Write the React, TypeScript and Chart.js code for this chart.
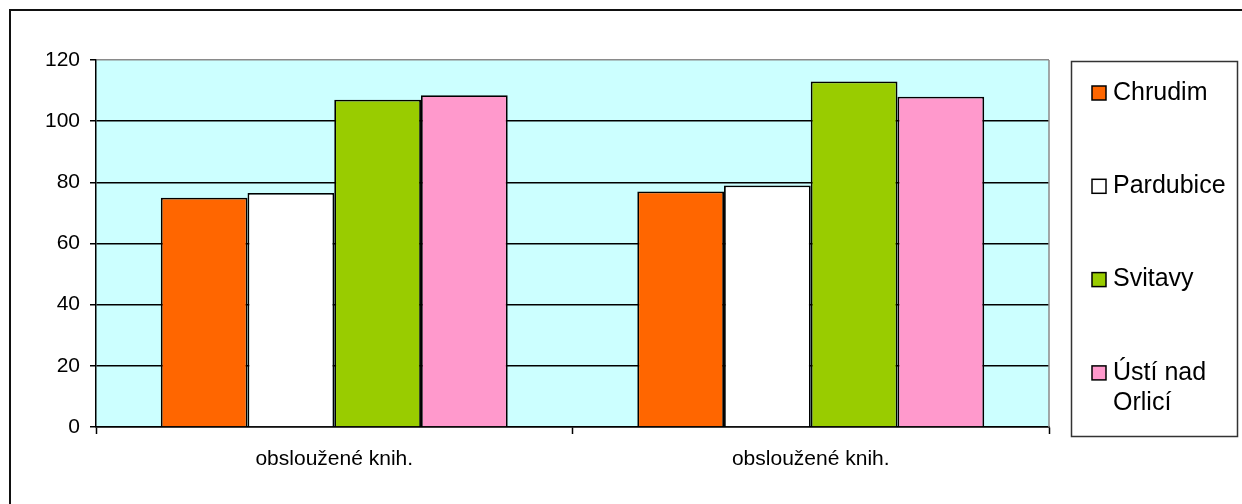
import React, { useEffect, useRef } from "react";
import { Chart, registerables } from "chart.js";

Chart.register(...registerables);

const categories = ["obsloužené knih.", "obsloužené knih."];
const seriesNames = ["Chrudim", "Pardubice", "Svitavy", "Ústí nad Orlicí"];
const chrudim = [75, 77];
const pardubice = [76.5, 79];
const svitavy = [107, 113];
const ustiNadOrlici = [108.5, 108];
const seriesColors = ["#FF6600", "#FFFFFF", "#99CC00", "#FF99CC"];
const yMin = 0;
const yMax = 120;
const yStep = 20;

const FONT = "'Liberation Sans', Arial, sans-serif";

function wrapText(ctx: CanvasRenderingContext2D, text: string, maxW: number): string[] {
  const words = text.split(" ");
  const lines: string[] = [];
  let cur = "";
  for (const w of words) {
    const test = cur ? cur + " " + w : w;
    if (ctx.measureText(test).width > maxW && cur) {
      lines.push(cur);
      cur = w;
    } else {
      cur = test;
    }
  }
  if (cur) lines.push(cur);
  return lines;
}

const decorPlugin = {
  id: "decor",
  beforeDraw(chart: any) {
    const { ctx, chartArea } = chart;
    ctx.save();
    ctx.fillStyle = "#FFFFFF";
    ctx.fillRect(0, 0, chart.width, chart.height);
    ctx.fillStyle = "#CCFFFF";
    ctx.fillRect(chartArea.left, chartArea.top, chartArea.right - chartArea.left, chartArea.bottom - chartArea.top);
    ctx.restore();
  },
  afterDatasetsDraw(chart: any) {
    const { ctx, chartArea } = chart;
    ctx.save();
    ctx.strokeStyle = "#8a8a8a";
    ctx.lineWidth = 1.5;
    ctx.beginPath();
    ctx.moveTo(chartArea.right, chartArea.top);
    ctx.lineTo(chartArea.right, chartArea.bottom);
    ctx.stroke();
    ctx.restore();
  },
  afterDraw(chart: any) {
    const { ctx } = chart;
    ctx.save();
    // outer frame
    ctx.fillStyle = "#111";
    ctx.fillRect(9, 9, chart.width - 9, 2);
    ctx.fillRect(9, 9, 2, chart.height - 9);
    // legend box
    ctx.strokeStyle = "#333";
    ctx.lineWidth = 1.5;
    ctx.strokeRect(1071.5, 61.5, 166, 375);
    ctx.font = `25px ${FONT}`;
    ctx.textBaseline = "middle";
    ctx.textAlign = "left";
    chart.data.datasets.forEach((ds: any, i: number) => {
      const y = 93 + i * 93.3;
      ctx.fillStyle = ds.backgroundColor;
      ctx.fillRect(1092, y - 7, 14, 14);
      ctx.strokeStyle = "#000";
      ctx.lineWidth = 1.5;
      ctx.strokeRect(1092, y - 7, 14, 14);
      ctx.fillStyle = "#000";
      const lines = wrapText(ctx, ds.label, 118);
      lines.forEach((ln, j) => ctx.fillText(ln, 1113, y + j * 30));
    });
    ctx.restore();
  },
};

export default function App() {
  const ref = useRef<HTMLCanvasElement | null>(null);

  useEffect(() => {
    if (!ref.current) return;
    const values = [chrudim, pardubice, svitavy, ustiNadOrlici];
    const chart = new Chart(ref.current, {
      type: "bar",
      data: {
        labels: categories,
        datasets: seriesNames.map((name, i) => ({
          label: name,
          data: values[i],
          backgroundColor: seriesColors[i],
          borderColor: "#000000",
          borderWidth: 1.8,
          categoryPercentage: 0.728,
          barPercentage: 1.0,
        })),
      },
      options: {
        responsive: false,
        animation: false,
        devicePixelRatio: 1,
        layout: { padding: { left: 0, top: 60, right: 193, bottom: 0 } },
        plugins: {
          legend: { display: false },
          tooltip: { enabled: false },
          title: { display: false },
        },
        scales: {
          x: {
            type: "category",
            offset: true,
            grid: {
              display: true,
              offset: true,
              drawOnChartArea: false,
              drawTicks: true,
              tickLength: 7,
              tickColor: "#000",
              tickWidth: 1.5,
            },
            border: { display: true, color: "#000", width: 1.5 },
            ticks: {
              color: "#000",
              font: { family: FONT, size: 21 },
              padding: 13,
              maxRotation: 0,
              autoSkip: false,
            },
            afterFit: (scale: any) => {
              scale.height = 77;
            },
          },
          y: {
            min: yMin,
            max: yMax,
            ticks: {
              stepSize: yStep,
              color: "#000",
              font: { family: FONT, size: 21 },
              padding: 10,
            },
            grid: {
              color: (c: any) => (c.tick && c.tick.value === yMax ? "#8a8a8a" : "#000"),
              lineWidth: 1.5,
              drawTicks: true,
              tickLength: 6,
              tickColor: "#000",
              tickWidth: 1.5,
            },
            border: { display: true, color: "#000", width: 1.5 },
            afterFit: (scale: any) => {
              scale.width = 96;
            },
          },
        },
      },
      plugins: [decorPlugin],
    });
    return () => chart.destroy();
  }, []);

  return (
    <div style={{ position: "fixed", left: 0, top: 0, width: 1242, height: 504, background: "#fff" }}>
      <canvas ref={ref} width={1242} height={504} style={{ display: "block", width: 1242, height: 504 }} />
    </div>
  );
}
